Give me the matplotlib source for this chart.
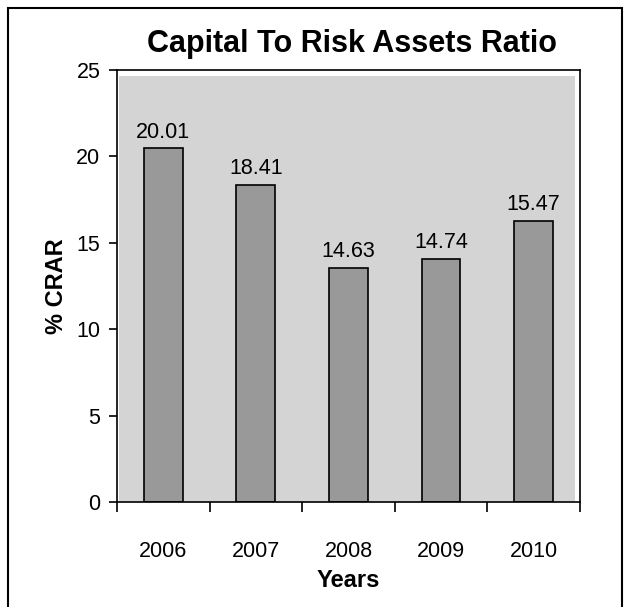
import matplotlib.pyplot as plt
from matplotlib.patches import Rectangle

# =====================================================
# DATA
# =====================================================

years = ["2006", "2007", "2008", "2009", "2010"]

# bar heights as drawn in the picture
bar_heights = [20.47, 18.35, 13.56, 14.08, 16.26]

# value labels printed above the bars
value_labels = ["20.01", "18.41", "14.63", "14.74", "15.47"]

y_ticks = [0, 5, 10, 15, 20, 25]

# =====================================================
# PLOT
# =====================================================

plt.rcParams["font.family"] = ["Liberation Sans", "DejaVu Sans"]

fig = plt.figure(figsize=(6.31, 6.07), dpi=100)

# outer frame
fig.patches.append(
    Rectangle(
        (0.013, -0.05),
        0.972,
        1.037,
        transform=fig.transFigure,
        fill=False,
        edgecolor="black",
        linewidth=1.5
    )
)

ax = fig.add_axes([0.1854, 0.173, 0.7336, 0.7117])

ax.set_facecolor("white")
ax.add_patch(
    Rectangle(
        (0.004, 0.0),
        0.985,
        0.985,
        transform=ax.transAxes,
        facecolor="#d4d4d4",
        edgecolor="none",
        zorder=0
    )
)

x = list(range(len(years)))

ax.bar(
    x,
    bar_heights,
    width=0.42,
    color="#999999",
    edgecolor="black",
    linewidth=1.2,
    zorder=2
)

for xi, h, lab in zip(x, bar_heights, value_labels):
    ax.annotate(
        lab,
        (xi, h),
        xytext=(0, 4),
        textcoords="offset points",
        ha="center",
        va="bottom",
        fontsize=15.5
    )

ax.set_xlim(-0.5, 4.5)
ax.set_ylim(0, 25)

# ticks between categories, labels under bars
ax.set_xticks([i - 0.5 for i in range(len(years) + 1)])
ax.set_xticklabels([])
ax.set_xticks(x, minor=True)
ax.set_xticklabels(years, minor=True, fontsize=15.5)
ax.tick_params(axis="x", which="major", direction="out", length=7, width=1.2)
ax.tick_params(axis="x", which="minor", length=0, pad=28)

ax.set_yticks(y_ticks)
ax.set_yticklabels([str(v) for v in y_ticks], fontsize=15.5)
ax.tick_params(axis="y", direction="out", length=6, width=1.2, pad=6)

for sp in ax.spines.values():
    sp.set_linewidth(1.2)

ax.set_xlabel("Years", fontsize=17, fontweight="bold", labelpad=5)
ax.set_ylabel("% CRAR", fontsize=17, fontweight="bold", labelpad=6)

fig.text(
    0.558,
    0.928,
    "Capital To Risk Assets Ratio",
    ha="center",
    va="center",
    fontsize=22,
    fontweight="bold"
)

plt.savefig("out.png", dpi=100)
